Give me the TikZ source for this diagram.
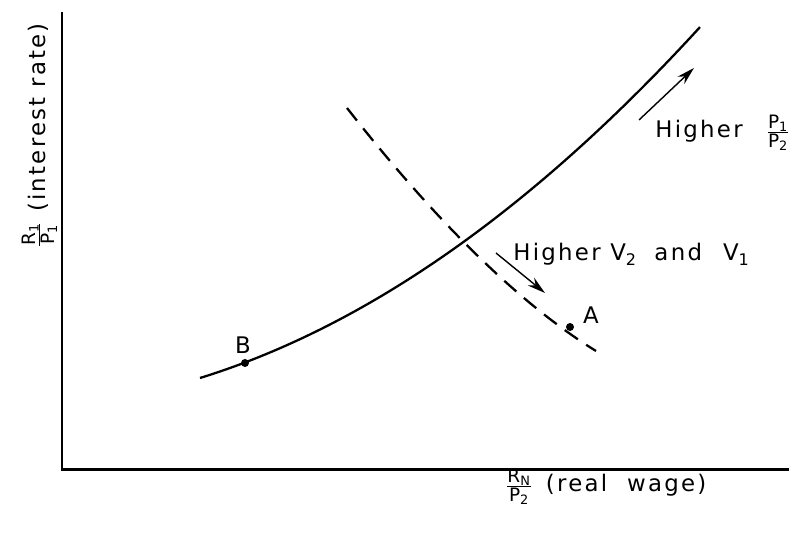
\documentclass[tikz,border=0pt]{standalone}
\usepackage{fontspec}
\setmainfont{DejaVu Sans}[LetterSpace=10]
\usetikzlibrary{arrows.meta}

\newcommand{\ratio}[2]{$\frac{\mbox{\fontsize{10.5}{11}\selectfont #1}}{\mbox{\fontsize{10.5}{11}\selectfont #2}}$}

\begin{document}
\begin{tikzpicture}[font=\fontsize{13}{15}\selectfont,
    curve/.style={line width=1.3pt},
    moveto/.style={line width=0.8pt,-{Stealth[length=3.6mm,width=2mm]}},
    lbl/.style={anchor=base west,inner sep=0pt}]
  \useasboundingbox (0,0) rectangle (15.78,10.66);
  % axes
  \draw[line width=1.7pt] (1.24,10.42) -- (1.24,1.26) -- (15.78,1.26);
  \node[lbl,rotate=90] (ylab) at (0.90,5.70) {\ratio{R\textsubscript{1}}{P\textsubscript{1}} (interest rate)};
  \node[lbl] (xlab) at (10.10,0.82) {\ratio{R\textsubscript{N}}{P\textsubscript{2}}\hspace{0.15em} (real\hspace{0.45em} wage)};
  % the two schedules
  \draw[curve,domain=4:14,samples=100] plot (\x,{2.4885-0.004*\x+0.03922*\x*\x});
  \draw[curve,dash pattern=on 0.32cm off 0.2cm] (6.94,8.50) .. controls (8.30,6.76) and (10.10,4.76) .. (11.92,3.64);
  % points
  \fill (4.90,3.40) circle (0.08);
  \node (B) at (4.86,3.76) {B};
  \fill (11.40,4.12) circle (0.08);
  \node (A) at (11.82,4.36) {A};
  % shifts
  \coordinate (s1) at (9.92,5.60);
  \coordinate (e1) at (10.90,4.80);
  \draw[moveto] (s1) -- (e1);
  \node[lbl] (hv) at (10.26,5.44) {Higher V\textsubscript{2}\hspace{0.35em} and\hspace{0.5em} V\textsubscript{1}};
  \coordinate (s2) at (12.78,8.26);
  \coordinate (e2) at (13.88,9.30);
  \draw[moveto] (s2) -- (e2);
  \node[lbl] (hp) at (13.10,7.90) {Higher\hspace{0.6em} \ratio{P\textsubscript{1}}{P\textsubscript{2}}};
\end{tikzpicture}
\end{document}
